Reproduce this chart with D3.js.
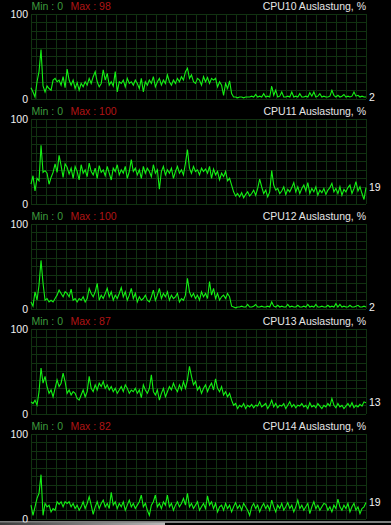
<!DOCTYPE html>
<html>
<head>
<meta charset="utf-8">
<script src="https://cdn.jsdelivr.net/npm/d3@7"></script>
<style>
  html, body { margin: 0; padding: 0; background: #000; }
  svg { display: block; }
  text { font-family: "Liberation Sans", Arial, sans-serif; font-size: 10.5px; }
</style>
</head>
<body>
<script>
const categories = ['CPU10', 'CPU11', 'CPU12', 'CPU13', 'CPU14'];
const titleSuffix = ' Auslastung, %';
const minValues = [0, 0, 0, 0, 0];
const maxValues = [98, 100, 100, 87, 82];
const yTickLabels = [0, 100];

const cpu10 = [13, 8, 2, 20, 32, 58, 15, 8, 15, 12,
  10, 22, 24, 20, 22, 16, 26, 13, 35, 22,
  16, 22, 12, 19, 10, 18, 14, 20, 16, 24,
  18, 26, 32, 20, 14, 18, 34, 22, 30, 16,
  20, 15, 32, 8, 20, 18, 22, 14, 24, 18,
  20, 16, 22, 18, 12, 24, 8, 20, 16, 22,
  18, 26, 14, 20, 24, 16, 22, 18, 28, 20,
  16, 22, 18, 24, 20, 26, 22, 32, 36, 24,
  28, 20, 18, 24, 22, 16, 26, 20, 25, 18,
  24, 22, 24, 14, 20, 16, 4, 18, 12, 21,
  6, 2, 2, 1, 2, 2, 1, 2, 2, 2,
  3, 2, 5, 2, 3, 2, 6, 2, 3, 2,
  15, 4, 10, 2, 3, 8, 2, 2, 3, 2,
  8, 2, 3, 2, 6, 2, 2, 3, 2, 7,
  3, 8, 2, 3, 6, 2, 3, 2, 2, 3,
  10, 4, 2, 4, 2, 3, 5, 2, 3, 2,
  3, 8, 3, 4, 2, 3, 2, 2];

const cpu11 = [23, 33, 15, 30, 27, 69, 37, 39, 36, 23,
  31, 37, 47, 37, 57, 45, 31, 47, 43, 35,
  42, 30, 44, 38, 28, 46, 36, 40, 32, 48,
  38, 34, 42, 30, 45, 37, 40, 33, 44, 36,
  28, 42, 38, 46, 34, 40, 36, 44, 30, 38,
  52, 38, 42, 34, 40, 30, 44, 36, 42, 38,
  32, 46, 36, 40, 17, 38, 44, 34, 40, 36,
  42, 30, 38, 44, 36, 40, 34, 48, 64, 42,
  36, 44, 38, 40, 34, 42, 38, 41, 36, 44,
  30, 41, 34, 38, 28, 36, 32, 38, 27, 30,
  22, 14, 9, 12, 8, 13, 7, 11, 14, 9,
  12, 16, 10, 18, 29, 20, 12, 16, 8, 14,
  39, 22, 16, 18, 12, 15, 20, 11, 17, 14,
  19, 25, 14, 20, 12, 18, 22, 15, 25, 12,
  18, 14, 20, 10, 16, 13, 18, 11, 16, 19,
  24, 14, 18, 12, 20, 10, 17, 14, 19, 22,
  12, 18, 26, 15, 20, 12, 5, 19];

const cpu12 = [8, 3, 20, 10, 28, 57, 30, 10, 12, 8,
  10, 8, 12, 16, 22, 18, 14, 20, 18, 14,
  23, 10, 12, 8, 12, 10, 14, 8, 12, 24,
  18, 14, 20, 30, 10, 16, 12, 18, 24, 14,
  20, 10, 16, 12, 18, 25, 14, 20, 10, 16,
  24, 12, 18, 8, 14, 10, 12, 16, 10, 8,
  14, 22, 10, 16, 24, 12, 18, 14, 20, 10,
  16, 12, 14, 18, 8, 12, 10, 16, 36, 20,
  14, 18, 12, 16, 10, 20, 14, 18, 12, 32,
  16, 24, 12, 18, 10, 14, 16, 12, 18, 14,
  3, 2, 1, 2, 2, 3, 2, 2, 5, 2,
  2, 3, 5, 2, 2, 3, 2, 2, 3, 2,
  8, 3, 2, 4, 2, 3, 2, 2, 5, 2,
  3, 2, 2, 4, 2, 2, 3, 2, 5, 2,
  3, 2, 5, 2, 2, 3, 2, 2, 4, 2,
  3, 2, 6, 2, 5, 2, 3, 2, 2, 4,
  2, 2, 3, 4, 2, 2, 3, 2];

const cpu13 = [14, 12, 16, 10, 26, 54, 36, 44, 32, 24,
  28, 20, 30, 40, 32, 36, 48, 38, 24, 28,
  22, 26, 24, 18, 16, 22, 28, 20, 26, 44,
  30, 26, 34, 28, 36, 32, 38, 30, 34, 28,
  32, 26, 30, 24, 28, 32, 26, 34, 30, 24,
  28, 26, 30, 24, 28, 19, 34, 28, 24, 30,
  46, 26, 22, 28, 16, 24, 30, 20, 26, 32,
  28, 36, 30, 26, 34, 28, 38, 30, 40, 56,
  44, 34, 38, 28, 32, 24, 30, 34, 26, 32,
  36, 28, 41, 30, 26, 32, 22, 26, 20, 24,
  16, 10, 12, 6, 10, 8, 12, 6, 10, 8,
  11, 7, 10, 9, 14, 8, 10, 12, 6, 10,
  16, 8, 12, 7, 10, 9, 12, 6, 10, 14,
  8, 11, 7, 10, 9, 12, 8, 10, 6, 13,
  8, 10, 7, 12, 9, 6, 10, 8, 12, 9,
  18, 10, 7, 12, 8, 10, 6, 9, 12, 8,
  13, 7, 10, 8, 11, 9, 14, 13];

const cpu14 = [16, 4, 14, 24, 30, 52, 4, 18, 14, 16,
  8, 12, 10, 20, 17, 20, 14, 20, 18, 20,
  14, 18, 12, 16, 10, 14, 20, 12, 18, 26,
  16, 5, 14, 20, 12, 18, 22, 14, 18, 12,
  31, 16, 20, 12, 18, 14, 20, 10, 16, 22,
  14, 18, 12, 16, 20, 28, 14, 18, 10, 4,
  16, 20, 28, 14, 18, 12, 20, 16, 28, 14,
  18, 10, 16, 20, 14, 18, 24, 16, 30, 14,
  18, 12, 16, 20, 10, 14, 18, 12, 27, 16,
  20, 12, 18, 8, 14, 16, 10, 18, 12, 16,
  8, 14, 19, 12, 16, 10, 18, 14, 10, 4,
  14, 18, 12, 16, 8, 14, 18, 12, 16, 10,
  22, 14, 8, 16, 12, 18, 10, 14, 19, 12,
  16, 8, 14, 22, 12, 16, 10, 14, 18, 6,
  14, 20, 12, 16, 10, 14, 18, 17, 10, 14,
  8, 16, 12, 23, 14, 10, 16, 12, 18, 8,
  14, 18, 10, 14, 6, 12, 14, 19];

const seriesList = [cpu10, cpu11, cpu12, cpu13, cpu14];

const W = 391, H = 525;
const plotLeft = 31, plotRight = 366;
const firstTop = 14, panelStep = 105, plotH = 84.7;

const svg = d3.select('body').append('svg').attr('width', W).attr('height', H);
svg.append('rect').attr('width', W).attr('height', H).attr('fill', '#000');

const gridColor = '#113211';

categories.forEach((cat, p) => {
  const values = seriesList[p];
  const top = firstTop + panelStep * p;
  const x = d3.scaleLinear().domain([0, values.length - 1]).range([plotLeft, plotRight]);
  const y = d3.scaleLinear().domain([0, 100]).range([top + plotH, top]);
  const g = svg.append('g');

  // horizontal grid
  const hGrid = g.append('g').attr('transform', `translate(${plotLeft},0)`)
    .call(d3.axisLeft(y).tickValues(d3.range(0, 101, 10)).tickSize(-(plotRight - plotLeft)).tickFormat(''));
  hGrid.select('.domain').remove();
  hGrid.selectAll('line').attr('stroke', gridColor).attr('shape-rendering', 'crispEdges');

  // vertical grid (every 10 px from right edge)
  const vx = d3.range(plotRight, plotLeft - 0.01, -10).concat([plotLeft]);
  g.append('g').selectAll('line').data(vx).join('line')
    .attr('x1', d => d).attr('x2', d => d)
    .attr('y1', top).attr('y2', top + plotH)
    .attr('stroke', gridColor).attr('shape-rendering', 'crispEdges');

  // y labels
  const yAxis = g.append('g').attr('transform', `translate(${plotLeft - 3},0)`)
    .call(d3.axisLeft(y).tickValues(yTickLabels).tickSize(0).tickPadding(0));
  yAxis.select('.domain').remove();
  yAxis.selectAll('text').attr('fill', '#f2f2f2').attr('font-size', '10.5px')
    .attr('font-family', '"Liberation Sans", Arial, sans-serif').attr('dy', '0.36em');

  // header
  const hy = top - 4.5;
  g.append('text').attr('x', plotLeft + 0.5).attr('y', hy).attr('fill', '#3d9b3d')
    .text(`Min : ${minValues[p]}`);
  g.append('text').attr('x', plotLeft + 39.5).attr('y', hy).attr('fill', '#b01414')
    .text(`Max : ${maxValues[p]}`);
  g.append('text').attr('x', plotRight).attr('y', hy).attr('fill', '#e6e6e6')
    .attr('text-anchor', 'end').text(cat + titleSuffix);

  // line
  const line = d3.line().x((d, i) => x(i)).y(d => y(d));
  g.append('path').datum(values).attr('d', line)
    .attr('fill', 'none').attr('stroke', '#14f014').attr('stroke-width', 1.1)
    .attr('stroke-linejoin', 'miter');

  // current value
  const last = values[values.length - 1];
  g.append('text').attr('x', plotRight + 3).attr('y', y(last)).attr('dy', '0.36em')
    .attr('fill', '#f2f2f2').text(last);
});

// bottom bar
const defs = svg.append('defs');
const grad = defs.append('linearGradient').attr('id', 'sb').attr('x1', '0%').attr('x2', '100%');
grad.append('stop').attr('offset', '0%').attr('stop-color', '#3a3a3a');
grad.append('stop').attr('offset', '100%').attr('stop-color', '#b8b8b8');
svg.append('rect').attr('x', 0).attr('y', 521.5).attr('width', W).attr('height', 1).attr('fill', '#ffffff');
svg.append('rect').attr('x', 0).attr('y', 522.5).attr('width', 165).attr('height', 2.5).attr('fill', 'url(#sb)');
</script>
</body>
</html>
